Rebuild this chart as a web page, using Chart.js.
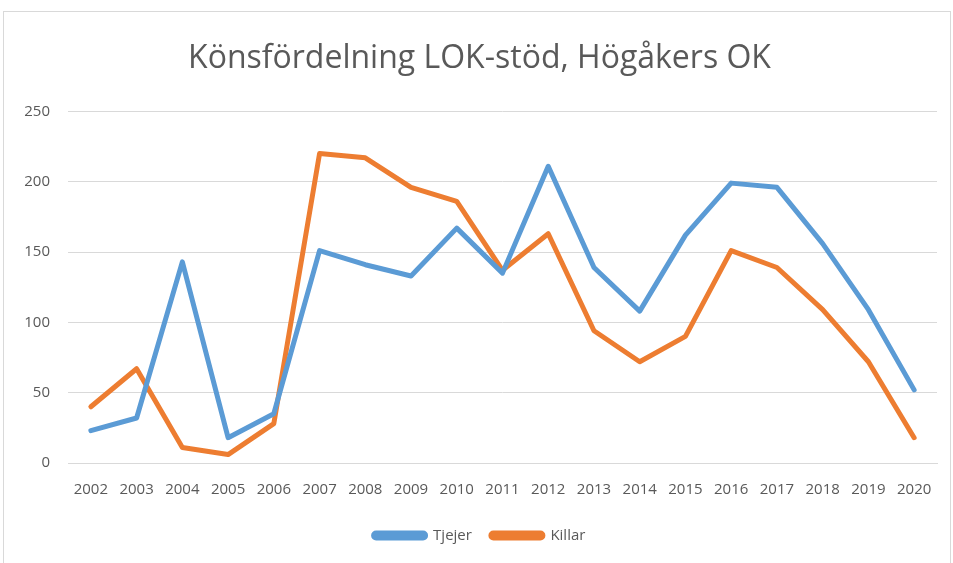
<!DOCTYPE html>
<html>
	<head>
		<meta charset="UTF-8">
		<title></title>
		<script src="https://cdn.jsdelivr.net/npm/chart.js@4/dist/chart.umd.min.js"></script>
		<style type="text/css">
			*{
				margin: 0;
				padding: 0;
			}
			body{
				background: white;
			}
			#wrap{
				position: absolute;
				left: 3px;
				top: 11px;
				width: 946px;
				height: 560px;
				border: 1px solid #d9d9d9;
			}
		</style>
	</head>
	<body>
		<div id="wrap">
			<canvas id="showChart"></canvas>
		</div>
		<script type="text/javascript">
			var years=["2002","2003","2004","2005","2006","2007","2008","2009","2010","2011","2012","2013","2014","2015","2016","2017","2018","2019","2020"];
			var tjejer=[23,32,143,18,35,151,141,133,167,135,211,139,108,162,199,196,156,109,52];
			var killar=[40,67,11,6,28,220,217,196,186,137,163,94,72,90,151,139,109,72,18];
			var title="Könsfördelning LOK-stöd, Högåkers OK";

			var textColor="#595959";
			var font="Open Sans, Liberation Sans, sans-serif";

			var ctx=document.getElementById("showChart").getContext("2d");
			var chart=new Chart(ctx,{
				type:"line",
				data:{
					labels:years,
					datasets:[
						{label:"Tjejer",data:tjejer,borderColor:"#5b9bd5",backgroundColor:"#5b9bd5",borderWidth:5,pointRadius:0,tension:0,borderCapStyle:"round",borderJoinStyle:"round"},
						{label:"Killar",data:killar,borderColor:"#ed7d31",backgroundColor:"#ed7d31",borderWidth:5,pointRadius:0,tension:0,borderCapStyle:"round",borderJoinStyle:"round"}
					]
				},
				options:{
					responsive:true,
					maintainAspectRatio:false,
					animation:false,
					layout:{padding:{left:18,right:13,top:28,bottom:19}},
					plugins:{
						title:{
							display:true,
							text:title,
							color:textColor,
							font:{family:font,size:32,weight:"normal"},
							padding:{top:0,bottom:33}
						},
						legend:{
							position:"bottom",
							labels:{
								color:textColor,
								font:{family:font,size:15},
								boxWidth:52,
								boxHeight:5,
								useBorderRadius:true,
								borderRadius:2.5,
								padding:19
							}
						},
						tooltip:{enabled:false}
					},
					scales:{
						x:{
							offset:true,
							grid:{display:false},
							border:{color:"#d9d9d9",width:1},
							ticks:{color:textColor,font:{family:font,size:15},maxRotation:0,padding:10}
						},
						y:{
							min:0,max:250,
							afterFit:function(scale){scale.width=46;},
							grid:{color:"#d9d9d9",lineWidth:1,drawTicks:false},
							border:{display:false},
							ticks:{stepSize:50,color:textColor,font:{family:font,size:15},padding:18}
						}
					}
				}
			});
		</script>
	</body>
</html>
